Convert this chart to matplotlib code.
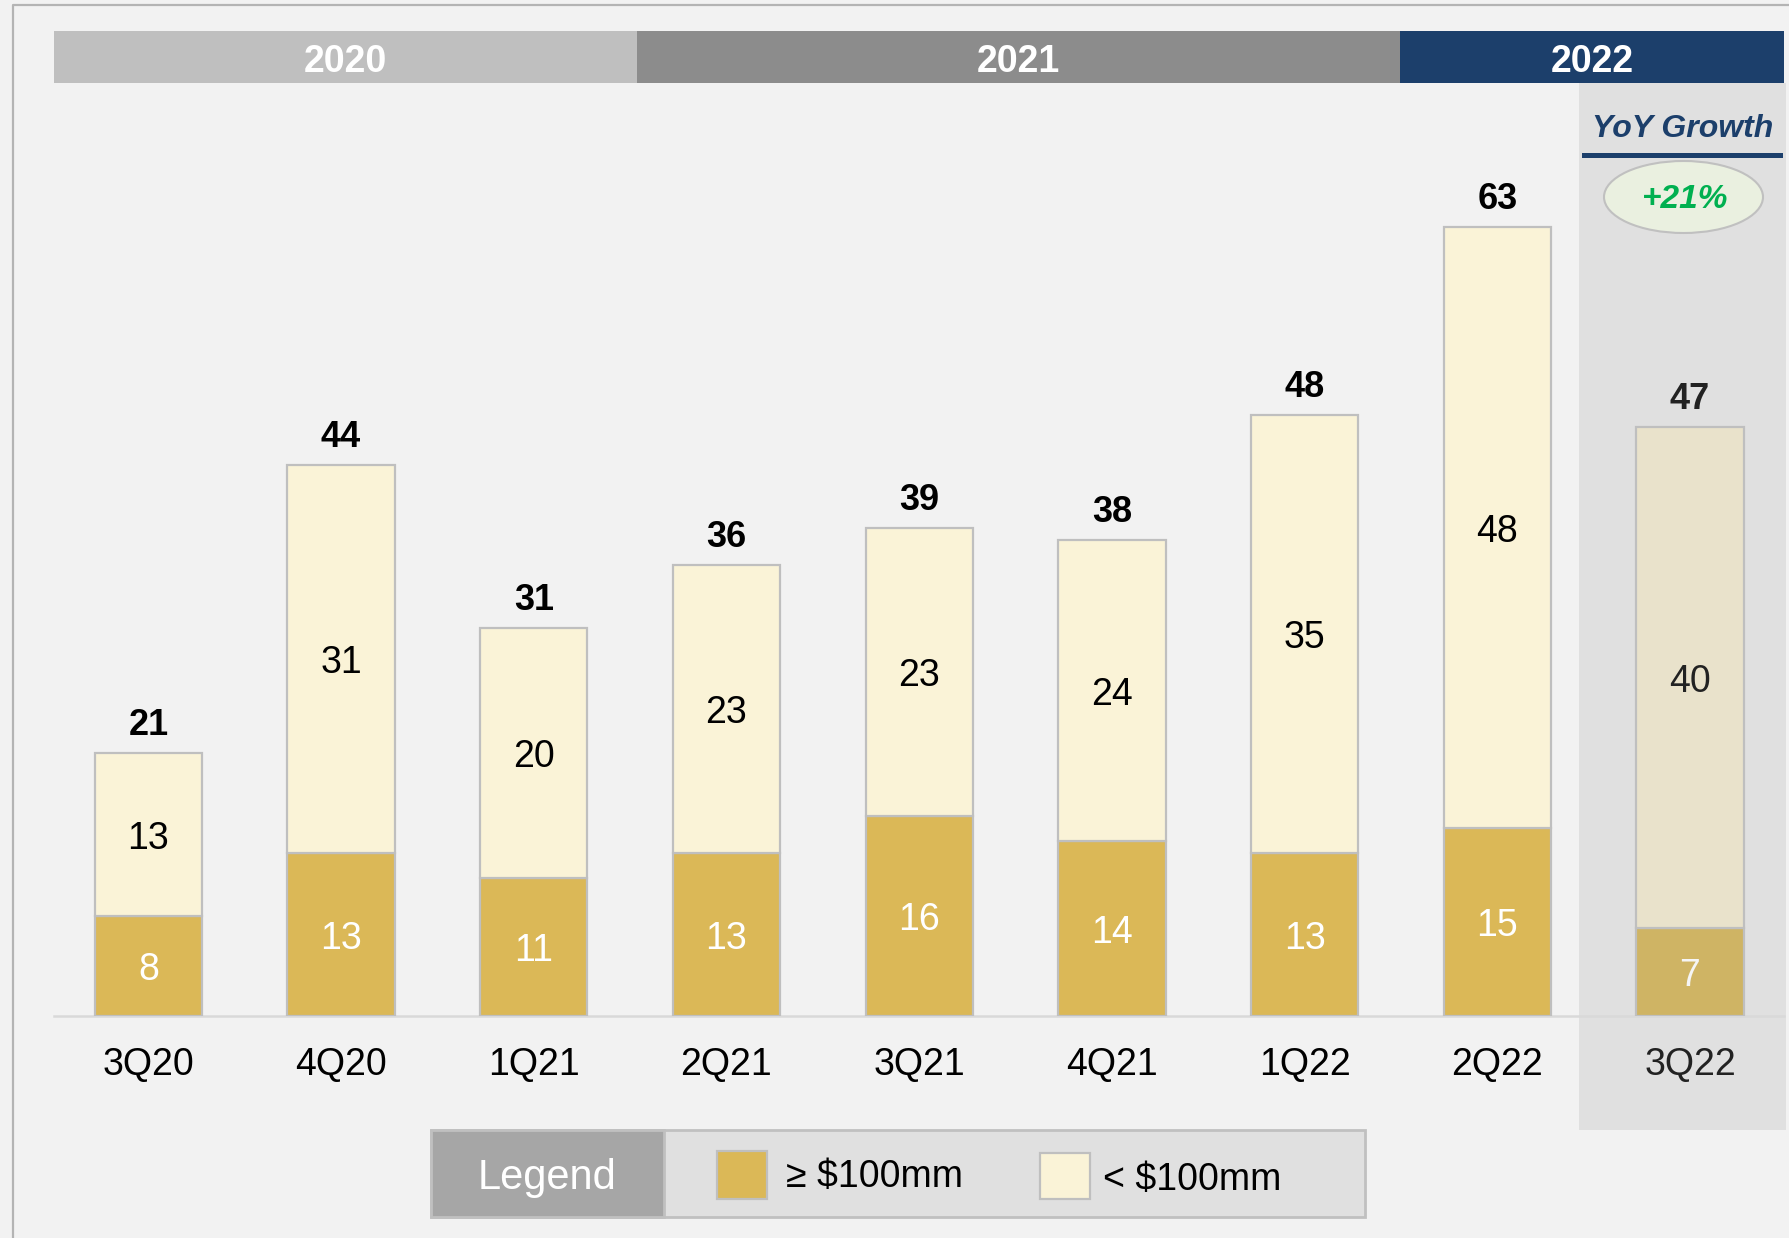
import matplotlib
matplotlib.use('Agg')
import matplotlib.pyplot as plt
from matplotlib.patches import Rectangle, Ellipse
from matplotlib.lines import Line2D

quarters = ['3Q20', '4Q20', '1Q21', '2Q21', '3Q21', '4Q21', '1Q22', '2Q22', '3Q22']
large = [8, 13, 11, 13, 16, 14, 13, 15, 7]
small = [13, 31, 20, 23, 23, 24, 35, 48, 40]
totals = [21, 44, 31, 36, 39, 38, 48, 63, 47]
years = ['2020', '2021', '2022']
yoy_label = 'YoY Growth'
yoy_value = '+21%'
legend_title = 'Legend'
legend_labels = ['\u2265 $100mm', '< $100mm']

FONT = ['Liberation Sans', 'DejaVu Sans']
plt.rcParams['font.family'] = FONT

W, H = 1790, 1238
fig = plt.figure(figsize=(W / 100, H / 100), dpi=100)
fig.patch.set_facecolor('#f2f2f2')


def frect(x0, y0, x1, y1, **kw):
    r = Rectangle((x0 / W, 1 - y1 / H), (x1 - x0) / W, (y1 - y0) / H,
                  transform=fig.transFigure, **kw)
    fig.add_artist(r)
    return r


def ftext(x, y, s, **kw):
    return fig.text(x / W, 1 - y / H, s, **kw)


def fline(xs, ys, **kw):
    fig.add_artist(Line2D([v / W for v in xs], [1 - v / H for v in ys],
                          transform=fig.transFigure, **kw))


# outer frame (left and top edges only)
fline([13, 13, W], [H, 5, 5], color='#b4b4b4', lw=1.6, zorder=-3)

# highlighted column for latest quarter
frect(1579, 83, 1786, 1130, fc='#e0e0e0', ec='none', zorder=-2)

# year header bars
header_spans = [(54, 637), (637, 1400), (1400, 1784)]
header_colors = ['#bfbfbf', '#8c8c8c', '#1c3f6b']
for yr, (x0, x1), c in zip(years, header_spans, header_colors):
    frect(x0, 31, x1, 83, fc=c, ec='none', zorder=1)
    ftext((x0 + x1) / 2, 62, yr, color='white', fontsize=27, fontweight='bold',
          ha='center', va='center', zorder=2)

# main axes
ax = fig.add_axes([54 / W, 222 / H, (1784 - 54) / W, (1155 - 222) / H])
ax.set_facecolor('none')
ax.set_xlim(-0.49, 8.488)
ax.set_ylim(0, 74.5)
for s in ax.spines.values():
    s.set_visible(False)
ax.set_yticks([])

x = list(range(len(quarters)))
gold = ['#dbb857'] * (len(quarters) - 1) + ['#cfb464']
cream = ['#faf3d7'] * (len(quarters) - 1) + ['#e9e2cb']
ax.bar(x, large, width=0.557, color=gold, edgecolor='#bfbfbf', linewidth=1.6, zorder=3)
ax.bar(x, small, bottom=large, width=0.557, color=cream, edgecolor='#bfbfbf',
       linewidth=1.6, zorder=3)
ax.axhline(0, color='#d9d9d9', lw=1.8, zorder=2, clip_on=False)

last = len(quarters) - 1
for i in x:
    lc = '#f5f5f5' if i == last else 'white'
    tc = '#222222' if i == last else 'black'
    ax.annotate(str(large[i]), (i, large[i] / 2), xytext=(0, -3),
                textcoords='offset points', ha='center', va='center',
                fontsize=27, color=lc, zorder=4)
    ax.annotate(str(small[i]), (i, large[i] + small[i] / 2), xytext=(0, -3),
                textcoords='offset points', ha='center', va='center',
                fontsize=27, color=tc, zorder=4)
    ax.annotate(str(totals[i]), (i, totals[i]), xytext=(0, 13),
                textcoords='offset points', ha='center', va='baseline',
                fontsize=26, fontweight='bold', color=tc, zorder=4)

ax.set_xticks(x)
ax.set_xticklabels(quarters, fontsize=27)
for i, t in enumerate(ax.get_xticklabels()):
    t.set_color('#222222' if i == last else 'black')
ax.tick_params(axis='x', length=0, pad=22)

# YoY growth callout
ftext(1683, 129, yoy_label, color='#1c3f6b', fontsize=23, fontweight='bold',
      fontstyle='italic', ha='center', va='center')
fline([1584, 1780], [155, 155], color='#1c3f6b', lw=3.6)
fig.add_artist(Ellipse((1683.5 / W, 1 - 197 / H), 159 / W, 72 / H,
                       transform=fig.transFigure, fc='#eaf0e0', ec='#c0c0c0', lw=1.5))
ftext(1685, 199, yoy_value, color='#00b050', fontsize=24, fontweight='bold',
      fontstyle='italic', ha='center', va='center')

# legend box
frect(431, 1130, 1365, 1217, fc='#e0e0e0', ec='#c0c0c0', lw=2)
frect(431, 1130, 664, 1217, fc='#a6a6a6', ec='#c0c0c0', lw=2)
ftext(547, 1178, legend_title, color='white', fontsize=30, ha='center', va='center')
frect(717, 1151, 767, 1199, fc='#dbb857', ec='#bfbfbf', lw=1.6)
frect(1040, 1153, 1090, 1199, fc='#faf3d7', ec='#bfbfbf', lw=1.6)
ftext(786, 1177, legend_labels[0], color='black', fontsize=27, ha='left', va='center')
ftext(1103, 1180, legend_labels[1], color='black', fontsize=27, ha='left', va='center')

fig.savefig('out.png', dpi=100, facecolor=fig.get_facecolor())
